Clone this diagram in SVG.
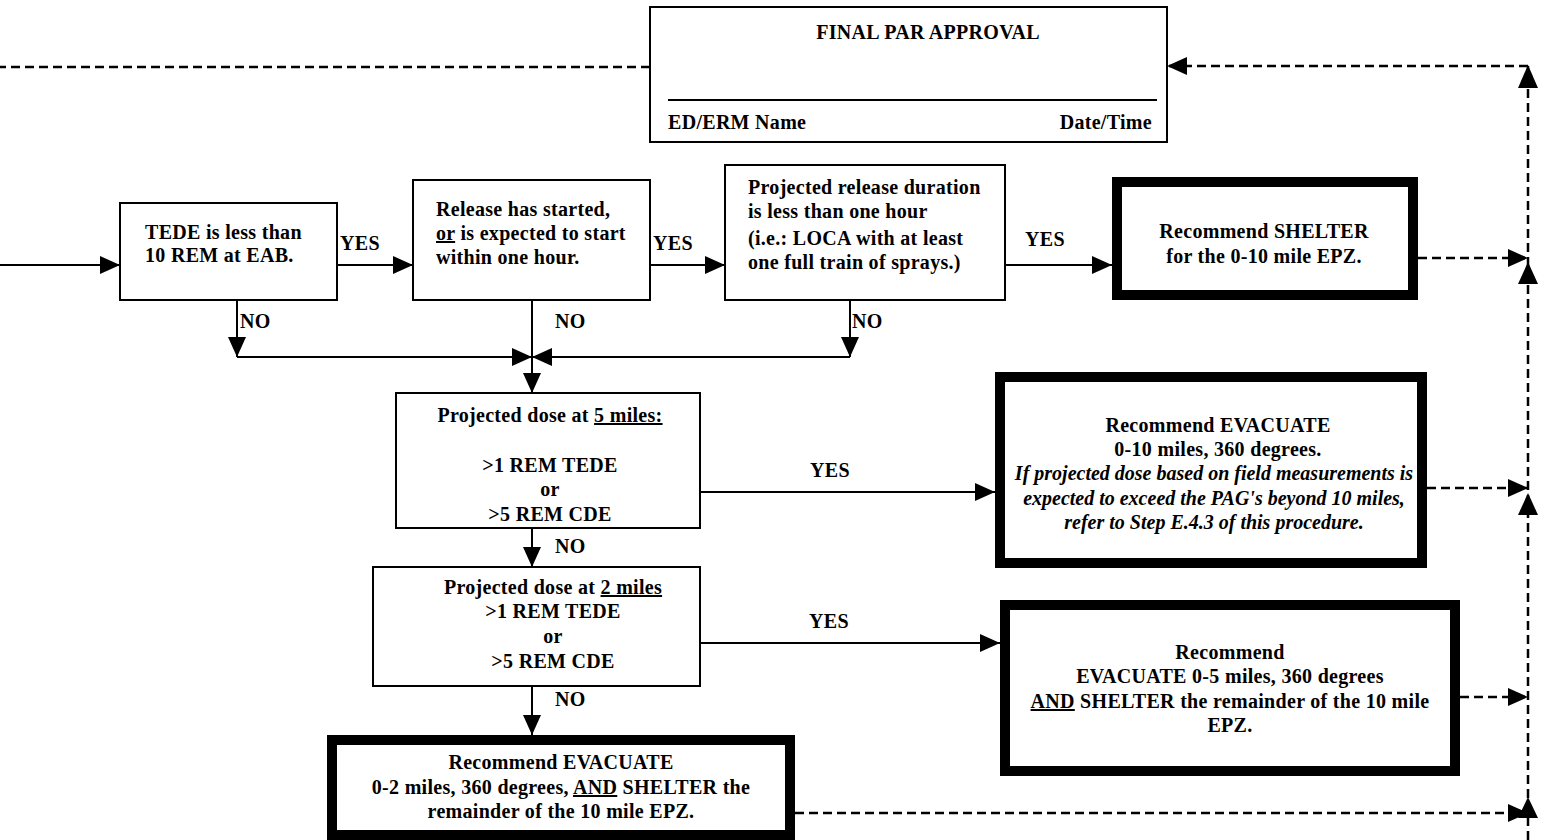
<svg xmlns="http://www.w3.org/2000/svg" width="1547" height="840" viewBox="0 0 1547 840">
<defs>
<style>
text{font-family:"Liberation Serif","Times New Roman",serif;font-size:20px;letter-spacing:0.3px;font-weight:bold;fill:#000}
.c{text-anchor:middle}
.i{font-style:italic;letter-spacing:0}
.box{fill:#fff;stroke:#000;stroke-width:2}
.thick{fill:#fff;stroke:#000;stroke-width:10}
.ln{fill:none;stroke:#000;stroke-width:2}
.dash{fill:none;stroke:#000;stroke-width:2.5;stroke-dasharray:9 5}
.ah{fill:#000}
</style>
<marker id="arr" markerUnits="userSpaceOnUse" markerWidth="20" markerHeight="18" refX="20" refY="9" orient="auto" viewBox="0 0 20 18">
<path d="M0,0 L20,9 L0,18 z" fill="#000"/>
</marker>
</defs>
<rect width="1547" height="840" fill="#fff"/>

<g id="connectors">
<path class="ln" d="M0,265 H120" marker-end="url(#arr)"/>
<path class="ln" d="M337,265 H413" marker-end="url(#arr)"/>
<path class="ln" d="M650,265 H725" marker-end="url(#arr)"/>
<path class="ln" d="M1005,265 H1112" marker-end="url(#arr)"/>
<path class="ln" d="M237,300 V357" marker-end="url(#arr)"/>
<path class="ln" d="M237,357 H532" marker-end="url(#arr)"/>
<path class="ln" d="M850,300 V357" marker-end="url(#arr)"/>
<path class="ln" d="M850,357 H532" marker-end="url(#arr)"/>
<path class="ln" d="M532,300 V393" marker-end="url(#arr)"/>
<path class="ln" d="M532,528 V567" marker-end="url(#arr)"/>
<path class="ln" d="M532,686 V735" marker-end="url(#arr)"/>
<path class="ln" d="M700,492 H995" marker-end="url(#arr)"/>
<path class="ln" d="M700,643 H1000" marker-end="url(#arr)"/>
<path class="dash" d="M1418,258 H1528" marker-end="url(#arr)"/>
<path class="dash" d="M1427,488 H1528" marker-end="url(#arr)"/>
<path class="dash" d="M1460,697 H1528" marker-end="url(#arr)"/>
<path class="dash" d="M795,813 H1528" marker-end="url(#arr)"/>
<path class="dash" d="M1528,840 V66"/>
<path class="dash" d="M1528,66 H1167" marker-end="url(#arr)"/>
<path class="dash" d="M650,67 H0"/>
<path class="ah" d="M1528,65 L1518,88 L1538,88 z"/>
<path class="ah" d="M1528,262 L1518,284 L1538,284 z"/>
<path class="ah" d="M1528,493 L1518,515 L1538,515 z"/>
<path class="ah" d="M1528,797 L1518,818 L1538,818 z"/>
<text x="340" y="250">YES</text>
<text x="653" y="250">YES</text>
<text x="1025" y="246">YES</text>
<text x="240" y="328">NO</text>
<text x="555" y="328">NO</text>
<text x="852" y="328">NO</text>
<text x="810" y="477">YES</text>
<text x="555" y="553">NO</text>
<text x="809" y="628">YES</text>
<text x="555" y="706">NO</text>
</g>

<g id="final-par-approval">
<rect class="box" x="650" y="7" width="517" height="135"/>
<text class="c" x="928" y="39">FINAL PAR APPROVAL</text>
<path class="ln" d="M668,100 H1157"/>
<text x="668" y="129">ED/ERM Name</text>
<text x="1152" y="129" style="text-anchor:end">Date/Time</text>
</g>

<g id="tede">
<rect class="box" x="120" y="203" width="217" height="97"/>
<text x="145" y="239">TEDE is less than</text>
<text x="145" y="262">10 REM at EAB.</text>
</g>

<g id="release-started">
<rect class="box" x="413" y="180" width="237" height="120"/>
<text x="436" y="216">Release has started,</text>
<text x="436" y="240"><tspan text-decoration="underline">or</tspan> is expected to start</text>
<text x="436" y="264">within one hour.</text>
</g>

<g id="release-duration">
<rect class="box" x="725" y="165" width="280" height="135"/>
<text x="748" y="194">Projected release duration</text>
<text x="748" y="218">is less than one hour</text>
<text x="748" y="245">(i.e.: LOCA with at least</text>
<text x="748" y="269">one full train of sprays.)</text>
</g>

<g id="shelter">
<rect class="thick" x="1117" y="182" width="296" height="113"/>
<text class="c" x="1264" y="238">Recommend SHELTER</text>
<text class="c" x="1264" y="263">for the 0-10 mile EPZ.</text>
</g>

<g id="dose-5-miles">
<rect class="box" x="396" y="393" width="304" height="135"/>
<text class="c" x="550" y="422">Projected dose at <tspan text-decoration="underline">5 miles:</tspan></text>
<text class="c" x="550" y="472">&gt;1 REM TEDE</text>
<text class="c" x="550" y="496">or</text>
<text class="c" x="550" y="521">&gt;5 REM CDE</text>
</g>

<g id="evacuate-10">
<rect class="thick" x="1000" y="377" width="422" height="186"/>
<text class="c" x="1218" y="432">Recommend EVACUATE</text>
<text class="c" x="1218" y="456">0-10 miles, 360 degrees.</text>
<text class="c i" x="1214" y="480">If projected dose based on field measurements is</text>
<text class="c i" x="1214" y="505">expected to exceed the PAG's beyond 10 miles,</text>
<text class="c i" x="1214" y="529">refer to Step E.4.3 of this procedure.</text>
</g>

<g id="dose-2-miles">
<rect class="box" x="373" y="567" width="327" height="119"/>
<text class="c" x="553" y="594">Projected dose at <tspan text-decoration="underline">2 miles</tspan></text>
<text class="c" x="553" y="618">&gt;1 REM TEDE</text>
<text class="c" x="553" y="643">or</text>
<text class="c" x="553" y="668">&gt;5 REM CDE</text>
</g>

<g id="evacuate-5">
<rect class="thick" x="1005" y="605" width="450" height="166"/>
<text class="c" x="1230" y="659">Recommend</text>
<text class="c" x="1230" y="683">EVACUATE 0-5 miles, 360 degrees</text>
<text class="c" x="1230" y="708"><tspan text-decoration="underline">AND</tspan> SHELTER the remainder of the 10 mile</text>
<text class="c" x="1230" y="732">EPZ.</text>
</g>

<g id="evacuate-2">
<rect class="thick" x="332" y="740" width="458" height="95"/>
<text class="c" x="561" y="769">Recommend EVACUATE</text>
<text class="c" x="561" y="794">0-2 miles, 360 degrees, <tspan text-decoration="underline">AND</tspan> SHELTER the</text>
<text class="c" x="561" y="818">remainder of the 10 mile EPZ.</text>
</g>
</svg>
